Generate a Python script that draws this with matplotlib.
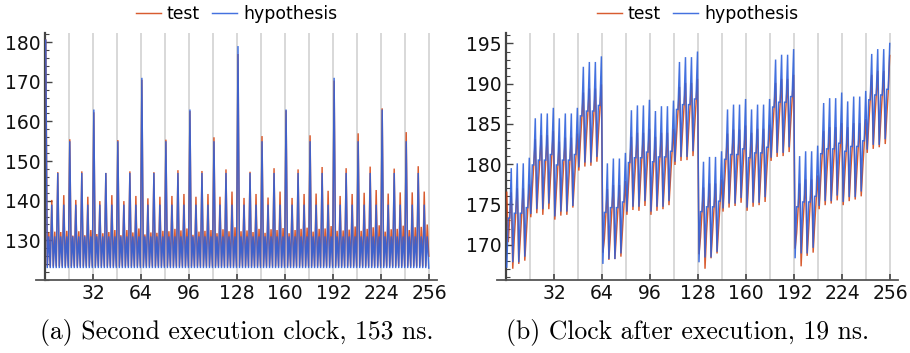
import numpy as np
import matplotlib
matplotlib.use("Agg")
import matplotlib.pyplot as plt
from matplotlib.ticker import AutoMinorLocator, FixedLocator

# ---------------- data (sample index k = 0..255) ----------------
xs = [k + 0.5 for k in range(256)]

# (a) Second execution clock
test_a = [
    180.5, 123.4, 132.0, 123.4, 140.2, 123.4, 132.2, 123.4, 147.2, 123.4, 132.1, 123.4, 141.4, 123.4, 132.4, 123.4,
    155.5, 123.4, 131.2, 123.4, 140.2, 123.4, 132.3, 123.4, 147.4, 123.4, 131.3, 123.4, 141.0, 123.4, 132.6, 123.4,
    162.3, 123.4, 131.6, 123.4, 139.9, 123.4, 131.8, 123.4, 147.0, 123.4, 132.1, 123.4, 141.4, 123.4, 132.6, 123.4,
    155.3, 123.4, 131.3, 123.4, 139.9, 123.4, 132.6, 123.4, 147.4, 123.4, 132.0, 123.4, 141.2, 123.4, 133.0, 123.4,
    170.5, 123.4, 131.5, 123.4, 140.6, 123.4, 132.0, 123.4, 147.2, 123.4, 131.9, 123.4, 141.0, 123.4, 132.4, 123.4,
    155.4, 123.4, 132.3, 123.4, 141.2, 123.4, 132.9, 123.4, 147.7, 123.4, 132.5, 123.4, 141.7, 123.4, 133.0, 123.4,
    162.6, 123.4, 131.4, 123.4, 141.0, 123.4, 132.2, 123.4, 147.5, 123.4, 132.4, 123.4, 141.7, 123.4, 132.6, 123.4,
    156.0, 123.4, 131.8, 123.4, 141.0, 123.4, 132.8, 123.4, 147.9, 123.4, 132.3, 123.4, 142.3, 123.4, 133.3, 123.4,
    177.0, 123.4, 132.3, 123.4, 140.7, 123.4, 132.5, 123.4, 147.3, 123.4, 132.1, 123.4, 141.7, 123.4, 132.9, 123.4,
    156.3, 123.4, 131.9, 123.4, 140.8, 123.4, 132.8, 123.4, 148.2, 123.4, 132.6, 123.4, 142.3, 123.4, 133.1, 123.4,
    162.8, 123.4, 131.8, 123.4, 140.7, 123.4, 132.6, 123.4, 147.9, 123.4, 132.9, 123.4, 141.7, 123.4, 133.2, 123.4,
    156.5, 123.4, 132.2, 123.4, 141.8, 123.4, 132.9, 123.4, 148.5, 123.4, 133.0, 123.4, 142.5, 123.4, 133.6, 123.4,
    170.3, 123.4, 132.4, 123.4, 141.2, 123.4, 132.5, 123.4, 148.2, 123.4, 132.7, 123.4, 141.7, 123.4, 133.5, 123.4,
    157.0, 123.4, 132.4, 123.4, 142.0, 123.4, 132.9, 123.4, 148.6, 123.4, 133.3, 123.4, 142.7, 123.4, 133.8, 123.4,
    163.3, 123.4, 132.2, 123.4, 141.8, 123.4, 132.8, 123.4, 148.1, 123.4, 132.9, 123.4, 142.1, 123.4, 133.7, 123.4,
    157.3, 123.4, 132.6, 123.4, 142.1, 123.4, 133.3, 123.4, 148.7, 123.4, 133.4, 123.4, 142.3, 123.4, 134.0, 126.0,
]
hyp_a = [
    180.5, 123, 131, 123, 139, 123, 131, 123, 147, 123, 131, 123, 139, 123, 131, 123,
    155, 123, 131, 123, 139, 123, 131, 123, 147, 123, 131, 123, 139, 123, 131, 123,
    163, 123, 131, 123, 139, 123, 131, 123, 147, 123, 131, 123, 139, 123, 131, 123,
    155, 123, 131, 123, 139, 123, 131, 123, 147, 123, 131, 123, 139, 123, 131, 123,
    171, 123, 131, 123, 139, 123, 131, 123, 147, 123, 131, 123, 139, 123, 131, 123,
    155, 123, 131, 123, 139, 123, 131, 123, 147, 123, 131, 123, 139, 123, 131, 123,
    163, 123, 131, 123, 139, 123, 131, 123, 147, 123, 131, 123, 139, 123, 131, 123,
    155, 123, 131, 123, 139, 123, 131, 123, 147, 123, 131, 123, 139, 123, 131, 123,
    179, 123, 131, 123, 139, 123, 131, 123, 147, 123, 131, 123, 139, 123, 131, 123,
    155, 123, 131, 123, 139, 123, 131, 123, 147, 123, 131, 123, 139, 123, 131, 123,
    163, 123, 131, 123, 139, 123, 131, 123, 147, 123, 131, 123, 139, 123, 131, 123,
    155, 123, 131, 123, 139, 123, 131, 123, 147, 123, 131, 123, 139, 123, 131, 123,
    171, 123, 131, 123, 139, 123, 131, 123, 147, 123, 131, 123, 139, 123, 131, 123,
    155, 123, 131, 123, 139, 123, 131, 123, 147, 123, 131, 123, 139, 123, 131, 123,
    163, 123, 131, 123, 139, 123, 131, 123, 147, 123, 131, 123, 139, 123, 131, 123,
    155, 123, 131, 123, 139, 123, 131, 123, 147, 123, 131, 123, 139, 123, 131, 123,
]

# (b) Clock after execution
test_b = [
    176.5, 170.3, 173.4, 176.5, 167.0, 170.8, 173.9, 177.0, 167.6, 170.8, 173.9, 177.0, 168.0, 171.3, 174.4, 177.5,
    173.4, 176.9, 180.0, 183.1, 173.9, 177.4, 180.5, 183.6, 173.7, 177.4, 180.5, 183.6, 174.4, 177.9, 181.0, 184.1,
    173.1, 176.6, 179.7, 182.8, 173.6, 177.1, 180.2, 183.3, 173.7, 177.1, 180.2, 183.3, 174.6, 177.6, 180.7, 183.8,
    179.2, 182.7, 185.8, 188.9, 179.7, 183.2, 186.3, 189.4, 179.8, 183.2, 186.3, 189.4, 180.3, 183.7, 186.8, 189.9,
    169.0, 170.7, 173.8, 176.9, 168.1, 171.2, 174.3, 177.4, 168.2, 171.2, 174.3, 177.4, 168.5, 171.7, 174.8, 177.9,
    173.7, 177.2, 180.3, 183.4, 174.3, 177.7, 180.8, 183.9, 174.2, 177.7, 180.8, 183.9, 174.8, 178.2, 181.3, 184.4,
    173.7, 177.2, 180.3, 183.4, 174.2, 177.7, 180.8, 183.9, 174.4, 177.7, 180.8, 183.9, 174.9, 178.2, 181.3, 184.4,
    179.9, 183.4, 186.5, 189.6, 180.4, 183.9, 187.0, 190.1, 180.5, 183.9, 187.0, 190.1, 181.0, 184.4, 187.5, 190.6,
    168.8, 170.9, 174.0, 177.1, 167.0, 171.4, 174.5, 177.6, 168.3, 171.4, 174.5, 177.6, 168.9, 171.9, 175.0, 178.1,
    174.1, 177.6, 180.7, 183.8, 174.6, 178.1, 181.2, 184.3, 174.8, 178.1, 181.2, 184.3, 175.2, 178.6, 181.7, 184.8,
    174.2, 177.7, 180.8, 183.9, 174.7, 178.2, 181.3, 184.4, 174.9, 178.2, 181.3, 184.4, 175.3, 178.7, 181.8, 184.9,
    180.4, 183.9, 187.0, 190.1, 180.9, 184.4, 187.5, 190.6, 181.0, 184.4, 187.5, 190.6, 181.5, 184.9, 188.0, 191.1,
    169.5, 171.4, 174.5, 177.6, 167.3, 171.9, 175.0, 178.1, 168.6, 171.9, 175.0, 178.1, 169.0, 172.4, 175.5, 178.6,
    174.4, 177.9, 181.0, 184.1, 174.9, 178.4, 181.5, 184.6, 175.1, 178.4, 181.5, 184.6, 175.5, 178.9, 182.0, 185.1,
    174.9, 178.4, 181.5, 184.6, 175.4, 178.9, 182.0, 185.1, 175.6, 178.9, 182.0, 185.1, 176.0, 179.4, 182.5, 185.6,
    181.4, 184.9, 188.0, 191.1, 181.9, 185.4, 188.5, 191.6, 182.1, 185.4, 188.5, 191.6, 182.5, 185.9, 189.0, 193.5,
]
hyp_b = [
    167.2, 173.3, 173.3, 179.5, 167.8, 173.9, 173.9, 180.1, 167.8, 173.9, 173.9, 180.1, 168.5, 174.6, 174.6, 180.8,
    173.8, 179.9, 179.9, 185.7, 174.4, 180.5, 180.5, 186.3, 174.4, 180.5, 180.5, 186.3, 175.1, 181.2, 181.2, 187.0,
    173.5, 179.9, 179.9, 185.7, 174.1, 180.5, 180.5, 186.3, 174.1, 180.5, 180.5, 186.3, 174.8, 181.2, 181.2, 187.0,
    179.6, 186.0, 186.0, 192.1, 180.2, 186.6, 186.6, 192.7, 180.2, 186.6, 186.6, 192.7, 180.9, 187.3, 187.3, 193.4,
    167.6, 174.0, 174.0, 180.1, 168.2, 174.6, 174.6, 180.7, 168.2, 174.6, 174.6, 180.7, 168.9, 175.3, 175.3, 181.4,
    174.1, 180.2, 180.2, 186.7, 174.7, 180.8, 180.8, 187.3, 174.7, 180.8, 180.8, 187.3, 175.4, 181.5, 181.5, 188.0,
    174.1, 180.3, 180.3, 186.6, 174.7, 180.9, 180.9, 187.2, 174.7, 180.9, 180.9, 187.2, 175.4, 181.6, 181.6, 187.9,
    180.3, 186.8, 186.8, 192.7, 180.9, 187.4, 187.4, 193.3, 180.9, 187.4, 187.4, 193.3, 181.6, 188.1, 188.1, 194.0,
    167.8, 174.1, 174.1, 180.3, 168.4, 174.7, 174.7, 180.9, 168.4, 174.7, 174.7, 180.9, 169.1, 175.4, 175.4, 181.6,
    174.5, 180.6, 180.6, 186.8, 175.1, 181.2, 181.2, 187.4, 175.1, 181.2, 181.2, 187.4, 175.8, 181.9, 181.9, 188.1,
    174.6, 180.8, 180.8, 186.8, 175.2, 181.4, 181.4, 187.4, 175.2, 181.4, 181.4, 187.4, 175.9, 182.1, 182.1, 188.1,
    180.8, 187.1, 187.1, 193.0, 181.4, 187.7, 187.7, 193.6, 181.4, 187.7, 187.7, 193.6, 182.1, 188.4, 188.4, 194.3,
    168.3, 174.7, 174.7, 181.0, 168.9, 175.3, 175.3, 181.6, 168.9, 175.3, 175.3, 181.6, 169.6, 176.0, 176.0, 182.3,
    174.8, 181.3, 181.3, 187.6, 175.4, 181.9, 181.9, 188.2, 175.4, 181.9, 181.9, 188.2, 176.1, 182.6, 182.6, 188.9,
    175.3, 181.6, 181.6, 187.8, 175.9, 182.2, 182.2, 188.4, 175.9, 182.2, 182.2, 188.4, 176.6, 182.9, 182.9, 189.1,
    181.8, 188.0, 188.0, 193.7, 182.4, 188.6, 188.6, 194.3, 182.4, 188.6, 188.6, 194.3, 183.1, 189.3, 189.3, 195.0,
]

xticks = [32, 64, 96, 128, 160, 192, 224, 256]
xgrid = list(range(16, 257, 16))
yticks_a = [130, 140, 150, 160, 170, 180]
yticks_b = [170, 175, 180, 185, 190, 195]
captions = ["(a) Second execution clock, 153 ns.", "(b) Clock after execution, 19 ns."]

C_TEST = "#d23f0c"
C_HYP = "#2f62dc"

fig = plt.figure(figsize=(9.10, 3.53), dpi=100)
W, H = 910.0, 353.0
axA = fig.add_axes([36 / W, 1 - 280 / H, 401 / W, 247 / H])
axB = fig.add_axes([497 / W, 1 - 280 / H, 401 / W, 247 / H])

panels = [
    (axA, test_a, hyp_a, yticks_a, (120.0, 182.3)),
    (axB, test_b, hyp_b, yticks_b, (165.6, 196.3)),
]

for ax, t, h, yt, yl in panels:
    ax.plot(xs, t, color=C_TEST, lw=1.05, alpha=0.85, label="test", zorder=3,
            solid_joinstyle="miter")
    ax.plot(xs, h, color=C_HYP, lw=1.05, alpha=0.9, label="hypothesis", zorder=4,
            solid_joinstyle="miter")
    ax.set_xlim(-6, 261)
    ax.set_ylim(*yl)
    for s in ("top", "right"):
        ax.spines[s].set_visible(False)
    ax.spines["left"].set_position(("data", 0))
    ax.spines["left"].set_color("#444444")
    ax.spines["left"].set_linewidth(1.6)
    ax.spines["bottom"].set_color("#555555")
    ax.spines["bottom"].set_linewidth(1.3)
    ax.xaxis.set_major_locator(FixedLocator(xticks))
    ax.xaxis.set_minor_locator(FixedLocator(xgrid))
    ax.set_xticklabels([str(v) for v in xticks])
    ax.set_yticks(yt)
    ax.yaxis.set_minor_locator(AutoMinorLocator(5))
    ax.grid(True, which="both", axis="x", color="#d6d6d6", lw=1.3, zorder=0)
    ax.set_axisbelow(True)
    ax.tick_params(axis="x", which="major", direction="in", length=4, width=1.2,
                   color="#444444", labelsize=13.5, pad=3, labelcolor="#111111")
    ax.tick_params(axis="x", which="minor", length=0)
    ax.tick_params(axis="y", which="major", direction="in", length=5, width=1.0,
                   color="#444444", labelsize=13.5, pad=3, labelcolor="#111111")
    ax.tick_params(axis="y", which="minor", direction="in", length=3, width=0.8, color="#444444")
    ax.legend(loc="center", bbox_to_anchor=(0.5, 1 + 19 / 247), ncol=2, frameon=False,
              fontsize=12.4, handlelength=1.45, handletextpad=0.35, columnspacing=0.7,
              borderaxespad=0)

fig.text(237 / W, 1 - 333 / H, captions[0], ha="center", va="center",
         fontsize=18.5, family="cmr10")
fig.text(688 / W, 1 - 333 / H, captions[1], ha="center", va="center",
         fontsize=18.5, family="cmr10")

fig.savefig("out.png", dpi=100)
